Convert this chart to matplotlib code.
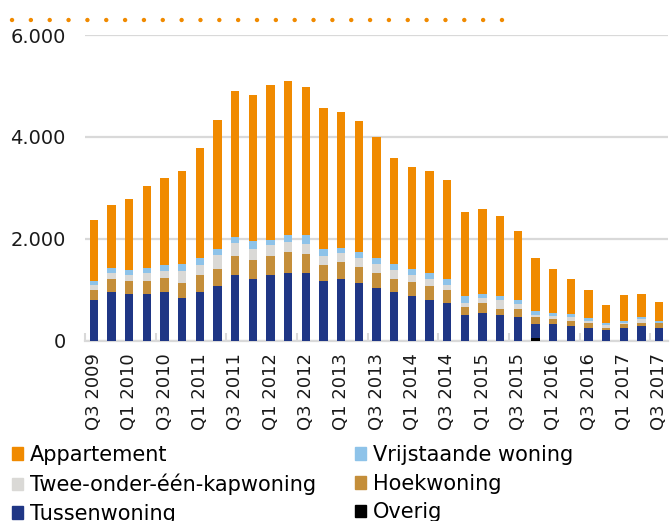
import numpy as np
import matplotlib.pyplot as plt
from matplotlib.patches import Patch
from matplotlib.lines import Line2D
from matplotlib.ticker import FuncFormatter

kwartalen = ['Q3 2009', 'Q4 2009', 'Q1 2010', 'Q2 2010', 'Q3 2010', 'Q4 2010',
             'Q1 2011', 'Q2 2011', 'Q3 2011', 'Q4 2011', 'Q1 2012', 'Q2 2012',
             'Q3 2012', 'Q4 2012', 'Q1 2013', 'Q2 2013', 'Q3 2013', 'Q4 2013',
             'Q1 2014', 'Q2 2014', 'Q3 2014', 'Q4 2014', 'Q1 2015', 'Q2 2015',
             'Q3 2015', 'Q4 2015', 'Q1 2016', 'Q2 2016', 'Q3 2016', 'Q4 2016',
             'Q1 2017', 'Q2 2017', 'Q3 2017']

overig = [0, 0, 0, 0, 0, 0, 0, 0, 0, 0, 0, 0, 0, 0, 0, 0, 0, 0, 0, 0,
          0, 0, 0, 0, 0, 50, 0, 0, 0, 0, 0, 0, 0]
tussenwoning = [800, 960, 920, 920, 960, 840, 960, 1085, 1295, 1215, 1295, 1330,
                1330, 1175, 1215, 1130, 1040, 960, 880, 800, 750, 510, 540, 510,
                465, 290, 340, 295, 255, 215, 255, 295, 255]
hoekwoning = [200, 250, 250, 250, 285, 290, 325, 335, 365, 365, 365, 410,
              370, 325, 335, 325, 295, 250, 285, 285, 250, 150, 210, 120,
              165, 125, 90, 90, 90, 45, 85, 50, 90]
twee_onder_een_kap = [90, 130, 130, 170, 130, 250, 215, 260, 255, 215, 220, 200,
                      210, 165, 170, 175, 170, 175, 130, 130, 90, 90, 90, 170,
                      90, 50, 70, 85, 45, 45, 10, 80, 10]
vrijstaand = [80, 85, 85, 85, 125, 125, 130, 120, 125, 165, 110, 145,
              175, 130, 110, 115, 130, 120, 125, 125, 125, 130, 85, 90,
              80, 70, 50, 50, 70, 40, 45, 40, 30]
appartement = [1205, 1235, 1405, 1610, 1700, 1820, 2145, 2525, 2855, 2855, 3035, 3015,
               2890, 2770, 2655, 2570, 2360, 2075, 1990, 1985, 1950, 1655, 1655, 1570,
               1365, 1040, 870, 695, 540, 370, 500, 465, 370]

reeksen = [
    ('Overig', overig, '#000000'),
    ('Tussenwoning', tussenwoning, '#1F3685'),
    ('Hoekwoning', hoekwoning, '#C48E3A'),
    ('Twee-onder-één-kapwoning', twee_onder_een_kap, '#DAD9D6'),
    ('Vrijstaande woning', vrijstaand, '#8EC3E9'),
    ('Appartement', appartement, '#F08A00'),
]

fig = plt.figure(figsize=(6.71, 5.21), dpi=100)
ax = fig.add_axes([85 / 671, 180 / 521, 583 / 671, 306 / 521])

x = np.arange(len(kwartalen))
bodem = np.zeros(len(kwartalen))
kleuren = {}
for naam, waarden, kleur in reeksen:
    ax.bar(x, waarden, width=0.47, bottom=bodem, color=kleur, zorder=3)
    bodem += np.array(waarden)
    kleuren[naam] = kleur

ax.set_xlim(-0.5, len(kwartalen) - 0.5)
ax.set_ylim(0, 6000)
ax.set_yticks([0, 2000, 4000, 6000])
ax.yaxis.set_major_formatter(FuncFormatter(lambda v, p: f'{v:,.0f}'.replace(',', '.')))
ax.grid(axis='y', color='#D9D9D9', linewidth=1.6, zorder=0)
ax.tick_params(axis='y', length=0, pad=14, labelsize=14, colors='#1a1a1a')

ax.set_xticks(x[::2])
ax.set_xticklabels(kwartalen[::2], rotation=90, fontsize=13, color='#1a1a1a')
ax.tick_params(axis='x', length=0, pad=9)
ax.set_xticks(np.arange(-0.5, len(kwartalen), 4), minor=True)
ax.tick_params(axis='x', which='minor', direction='in', length=6, width=1.5, color='#D9D9D9')

for s in ['top', 'right', 'left']:
    ax.spines[s].set_visible(False)
ax.spines['bottom'].set_color('#D9D9D9')
ax.spines['bottom'].set_linewidth(1.6)

# oranje stippellijn bovenaan
fig.add_artist(Line2D([12 / 671, 506 / 671], [1 - 20 / 521, 1 - 20 / 521],
                      transform=fig.transFigure, color='#F08A00', linewidth=3.2,
                      linestyle=(0, (0.01, 4.23)), dash_capstyle='round'))

links = ['Appartement', 'Twee-onder-één-kapwoning', 'Tussenwoning']
rechts = ['Vrijstaande woning', 'Hoekwoning', 'Overig']
for namen, xpos in [(links, 12 / 671), (rechts, 355 / 671)]:
    fig.legend(handles=[Patch(color=kleuren[n], label=n) for n in namen],
               loc='upper left', bbox_to_anchor=(xpos, 1 - 445 / 521),
               frameon=False, fontsize=15, handlelength=0.55, handleheight=0.55,
               handletextpad=0.3, labelspacing=0.42, borderpad=0, borderaxespad=0)

fig.savefig('out.png', dpi=100)
